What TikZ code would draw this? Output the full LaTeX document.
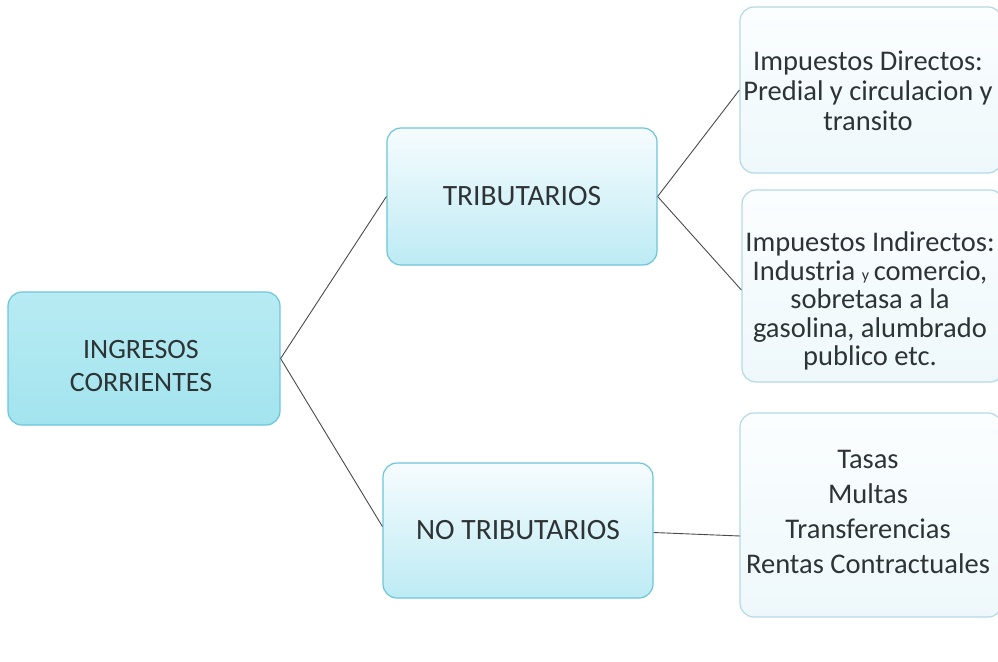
\documentclass[tikz,border=0pt]{standalone}
\usepackage{fontspec}
\setmainfont{Carlito}
\usetikzlibrary{calc}
\definecolor{txt}{HTML}{2E3436}
\definecolor{cyanfill}{HTML}{A2E4EE}
\definecolor{cyantop}{HTML}{B8EBF3}
\definecolor{cyanedge}{HTML}{6CC6DA}
\definecolor{midtop}{HTML}{F6FCFE}
\definecolor{midbot}{HTML}{BDEBF4}
\definecolor{paletop}{HTML}{FBFEFF}
\definecolor{palebot}{HTML}{EEF8FB}
\definecolor{paleedge}{HTML}{B5D9E6}
\definecolor{linecol}{HTML}{4A4A4A}
\tikzset{
  base/.style={rectangle, rounded corners=14pt, line width=1.2pt, inner sep=0pt},
  rootbox/.style={base, draw=cyanedge, top color=cyantop, bottom color=cyanfill},
  midbox/.style={base, draw=cyanedge, top color=midtop, bottom color=midbot,
    align=center, text=txt, font=\fontsize{29.5}{33}\selectfont},
  leafbox/.style={base, draw=paleedge, top color=paletop, bottom color=palebot},
  txtnode/.style={align=center, text=txt, inner sep=0pt},
  conn/.style={draw=linecol, line width=0.9pt}
}
\begin{document}
\begin{tikzpicture}[x=1pt,y=-1pt]
\useasboundingbox (0,0) rectangle (998,661);
\clip (0,0) rectangle (998,661);
\fill[white] (0,0) rectangle (998,661);
\node[rootbox, minimum width=272pt, minimum height=133pt] (A) at (144,358.5) {};
\node[txtnode, font=\fontsize{28}{33}\selectfont] (Atext) at (141,366) {INGRESOS\\CORRIENTES};
\node[midbox, minimum width=270pt, minimum height=137pt] (B) at (522,196.5)
  {TRIBUTARIOS};
\node[midbox, minimum width=270pt, minimum height=135pt] (C) at (518,530.5)
  {NO TRIBUTARIOS};
\node[leafbox, minimum width=262pt, minimum height=166pt] (D) at (871,90) {};
\node[txtnode, font=\fontsize{28.5}{30}\selectfont] (Dtext) at (868,91)
  {Impuestos Directos:\\Predial y circulacion y\\transito};
\node[leafbox, minimum width=262pt, minimum height=192pt] (E) at (873,286) {};
\node[txtnode, font=\fontsize{28.5}{28.5}\selectfont] (Etext) at (870,301)
  {Impuestos Indirectos:\\Industria {\fontsize{16}{16}\selectfont y}\,comercio,\\sobretasa a la\\gasolina, alumbrado\\publico etc.};
\node[leafbox, minimum width=262pt, minimum height=204pt] (F) at (871,515) {};
\node[txtnode, font=\fontsize{28.5}{35}\selectfont] (Ftext) at (868,512)
  {Tasas\\Multas\\Transferencias\\Rentas Contractuales};
\coordinate (Fin) at (740,536);
\draw[conn] (A.east) -- (B.west);
\draw[conn] (A.east) -- ($(C.west)+(0,-4)$);
\draw[conn] (B.east) -- (D.west);
\draw[conn] (B.east) -- ($(E.west)+(0,4)$);
\draw[conn] ($(C.east)+(0,2)$) -- (Fin);
\end{tikzpicture}
\end{document}
